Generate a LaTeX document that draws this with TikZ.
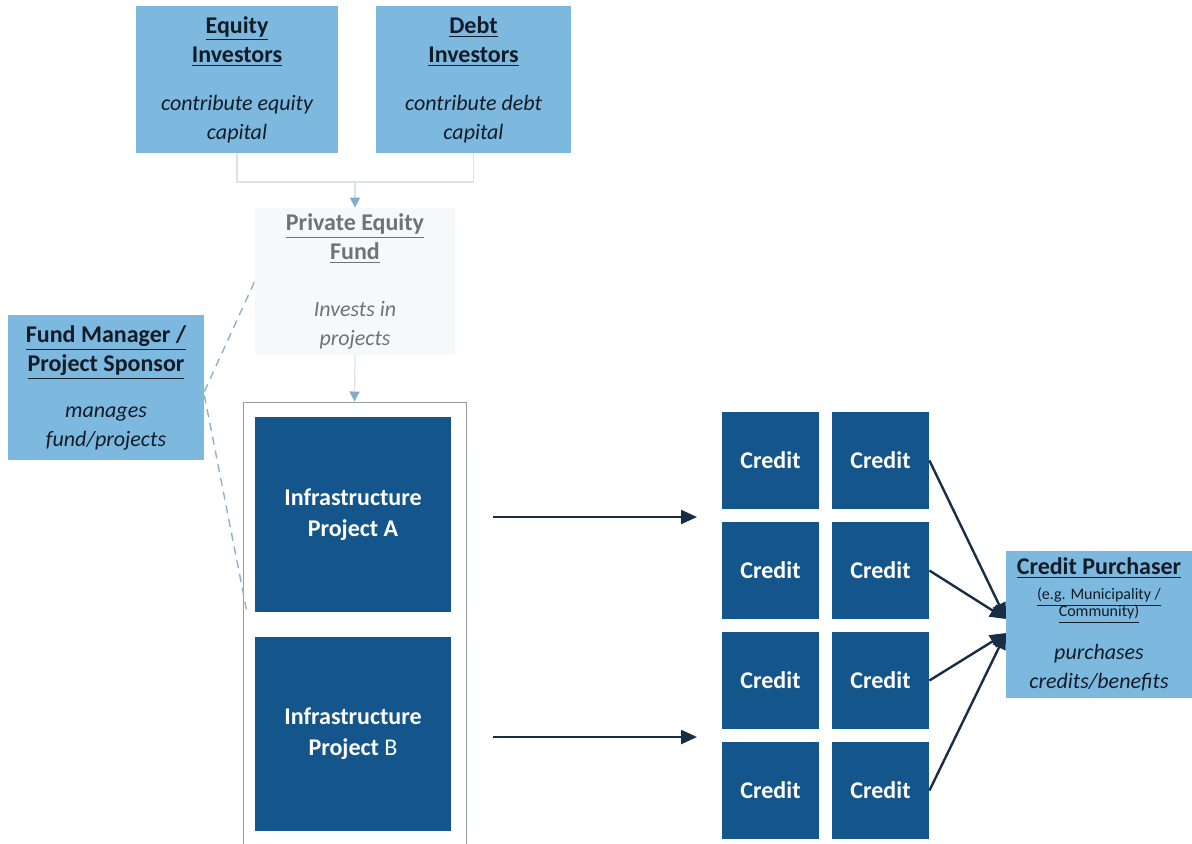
\documentclass[tikz,border=0pt]{standalone}
\usepackage{fontspec}
\setmainfont{Carlito}
\usetikzlibrary{arrows.meta}

\definecolor{lightbox}{RGB}{125,185,222}
\definecolor{darkbox}{RGB}{20,86,140}
\definecolor{navy}{RGB}{24,46,68}
\definecolor{boxtext}{RGB}{18,28,40}
\definecolor{fainttext}{RGB}{112,114,118}
\definecolor{faintfill}{RGB}{246,248,250}
\definecolor{faintline}{RGB}{222,226,230}
\definecolor{dashblue}{RGB}{140,178,208}
\definecolor{pointer}{RGB}{128,172,208}
\definecolor{framegray}{RGB}{150,155,160}

\tikzset{
  lightnode/.style={fill=lightbox, text=boxtext, align=center, inner sep=0pt,
    font=\fontsize{12}{14.5}\selectfont},
  faintnode/.style={fill=faintfill, text=fainttext, align=center, inner sep=0pt,
    font=\fontsize{12}{14.5}\selectfont},
  darknode/.style={fill=darkbox, text=white, align=center, inner sep=0pt,
    font=\bfseries\fontsize{12}{15.5}\selectfont},
  creditbox/.style={darknode, minimum width=48.5pt, minimum height=48.5pt},
  faintlink/.style={draw=faintline, line width=0.6pt},
  pointerarrow/.style={draw=faintline, line width=0.6pt,
    -{Triangle[length=5pt,width=5pt,fill=pointer,color=pointer]}},
  dashlink/.style={draw=dashblue, line width=0.7pt, dash pattern=on 4pt off 3pt},
  darkarrow/.style={draw=navy, line width=1.2pt, -{Triangle[length=8pt,width=7pt]}},
}

% one line of a box heading, and one line of its italic note
\newcommand{\ttl}[1]{{\bfseries\underline{#1}}}
\newcommand{\subtext}[1]{{\fontsize{11}{14.5}\selectfont\itshape #1}}
\newcommand{\smallnote}[1]{{\fontsize{8}{14.5}\selectfont\underline{#1}}}

\begin{document}
\begin{tikzpicture}[x=0.5pt, y=-0.5pt]
  \useasboundingbox[fill=white] (0,0) rectangle (1192,843);

  % investors
  \node[lightnode, minimum width=101pt, minimum height=73.5pt] (eq) at (237,79.5)
    {\ttl{Equity}\\\ttl{Investors}\\[9.5pt]\subtext{contribute equity}\\\subtext{capital}};
  \node[lightnode, minimum width=97.5pt, minimum height=73.5pt] (debt) at (473.5,79.5)
    {\ttl{Debt}\\\ttl{Investors}\\[9.5pt]\subtext{contribute debt}\\\subtext{capital}};

  % fund
  \node[faintnode, minimum width=100pt, minimum height=73.5pt] (pef) at (355,281.5)
    {\ttl{Private Equity}\\\ttl{Fund}\\[14pt]\subtext{Invests in}\\\subtext{projects}};

  % manager
  \node[lightnode, minimum width=98pt, minimum height=72.5pt] (fm) at (106,387.5)
    {\ttl{Fund Manager /}\\\ttl{Project Sponsor}\\[8.5pt]\subtext{manages}\\\subtext{fund/projects}};

  % project pool
  \node[draw=framegray, line width=0.5pt, minimum width=111.5pt, minimum height=222pt] (pool) at (354.5,624) {};
  \node[darknode, minimum width=98pt, minimum height=97.5pt] (pa) at (353,514.5) {Infrastructure\\Project A};
  \node[darknode, minimum width=98pt, minimum height=97pt] (pb) at (353,734) {Infrastructure\\Project {\mdseries B}};

  % credits
  \foreach \r/\y in {1/460.5, 2/570.5, 3/680.5, 4/790.5}{
    \node[creditbox] (c\r a) at (770.5,\y) {Credit};
    \node[creditbox] (c\r b) at (880.5,\y) {Credit};
  }

  % purchaser
  \node[lightnode, minimum width=93pt, minimum height=73.5pt] (cp) at (1099,624.5)
    {\ttl{Credit Purchaser}\\[-2pt]\smallnote{(e.g. Municipality /}\\[-6pt]\smallnote{Community)}\\[7pt]\subtext{purchases}\\\subtext{credits/benefits}};

  % capital flows into the fund
  \coordinate (jn) at (355,182);
  \draw[faintlink] (eq.south) |- (jn);
  \draw[faintlink] (debt.south) |- (jn);
  \draw[pointerarrow] (jn) -- (pef.north);
  \draw[pointerarrow] (pef.south) -- (pool.north);

  % management links
  \coordinate (poolA) at (247,612);
  \draw[dashlink] ([yshift=-2pt]fm.east) -- (pef.west);
  \draw[dashlink] ([yshift=-4pt]fm.east) -- (poolA);

  % projects generate credits
  \coordinate (tA) at (697,517);
  \coordinate (tB) at (697,737);
  \draw[darkarrow] (pa.east |- tA) ++(42,0) -- (tA);
  \draw[darkarrow] (pb.east |- tB) ++(42,0) -- (tB);

  % credits to purchaser
  \coordinate (hUp) at (1006,619);
  \coordinate (hDn) at (1006,633);
  \draw[darkarrow] (c1b.east) -- (hUp);
  \draw[darkarrow] (c2b.east) -- (hUp);
  \draw[darkarrow] (c3b.east) -- (hDn);
  \draw[darkarrow] (c4b.east) -- (hDn);
\end{tikzpicture}
\end{document}
